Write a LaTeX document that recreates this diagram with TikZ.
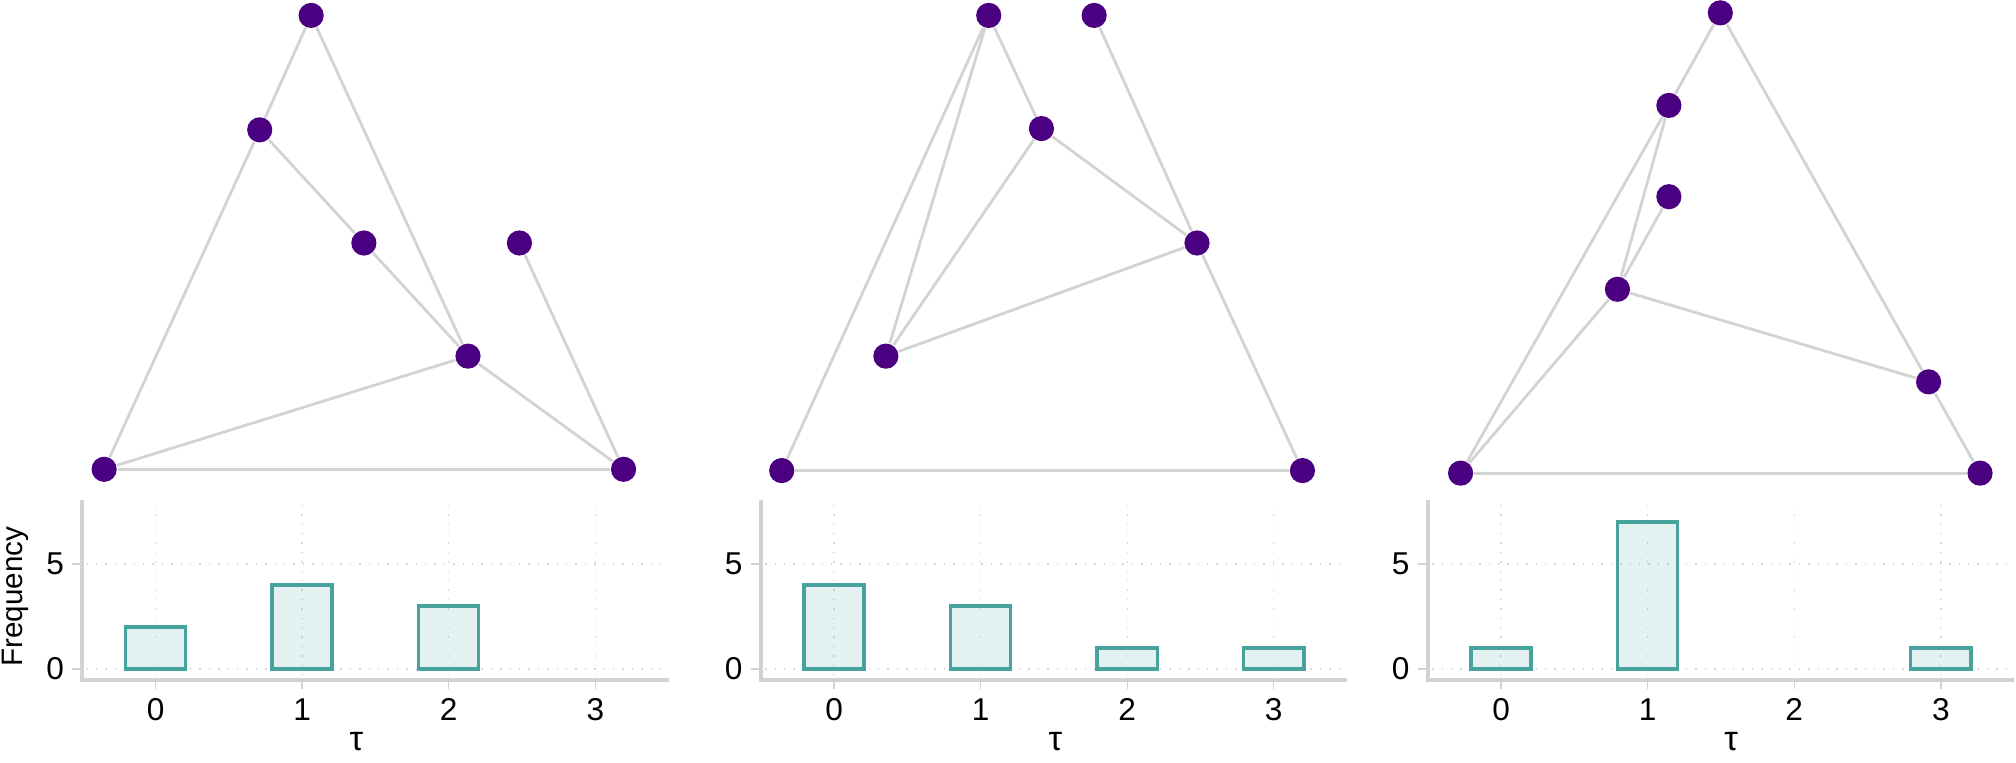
\documentclass[tikz,border=0pt]{standalone}
\usepackage{fontspec}
\setmainfont{Liberation Sans}
\definecolor{vtxpurple}{HTML}{4B0082}
\definecolor{linkgray}{HTML}{D3D3D3}
\definecolor{axisgray}{HTML}{D2D2D2}
\definecolor{gridgray}{HTML}{D8D8D8}
\definecolor{barteal}{HTML}{48A29E}
\begin{document}
\begin{tikzpicture}[
  x=0.321429pt, y=-0.321429pt,
  vertex/.style={circle, fill=vtxpurple, inner sep=0pt, minimum size=6.3pt},
  link/.style={draw=linkgray, line width=0.7pt},
  bar/.style={draw=barteal, fill=barteal, fill opacity=0.15, line width=0.85pt},
  axisline/.style={draw=axisgray, line width=0.9pt},
  gridline/.style={draw=gridgray, dotted, line width=0.35pt},
  tickline/.style={draw=axisgray, line width=0.35pt},
  ticklab/.style={inner sep=0pt, font=\fontsize{7.9}{9}\selectfont},
  axislab/.style={inner sep=0pt, font=\fontsize{7.4}{9}\selectfont},
  taulab/.style={inner sep=0pt, font=\fontsize{8.6}{10}\selectfont}
]
\useasboundingbox (0,0) rectangle (1568,593.4);

% graph 1
\node[vertex] (a1) at (242,12) {};
\node[vertex] (b1) at (202,101) {};
\node[vertex] (c1) at (283,189) {};
\node[vertex] (d1) at (404,189) {};
\node[vertex] (e1) at (364,277) {};
\node[vertex] (f1) at (81,365) {};
\node[vertex] (g1) at (485,365) {};
\draw[link] (a1) -- (b1);
\draw[link] (a1) -- (e1);
\draw[link] (b1) -- (c1);
\draw[link] (b1) -- (f1);
\draw[link] (c1) -- (e1);
\draw[link] (e1) -- (f1);
\draw[link] (e1) -- (g1);
\draw[link] (d1) -- (g1);
\draw[link] (f1) -- (g1);

% graph 2
\node[vertex] (a2) at (769,12) {};
\node[vertex] (b2) at (851,12) {};
\node[vertex] (c2) at (810,100) {};
\node[vertex] (d2) at (931,189) {};
\node[vertex] (e2) at (689,277) {};
\node[vertex] (f2) at (608,366) {};
\node[vertex] (g2) at (1013,366) {};
\draw[link] (a2) -- (f2);
\draw[link] (a2) -- (e2);
\draw[link] (a2) -- (c2);
\draw[link] (c2) -- (e2);
\draw[link] (c2) -- (d2);
\draw[link] (b2) -- (d2);
\draw[link] (d2) -- (e2);
\draw[link] (d2) -- (g2);
\draw[link] (f2) -- (g2);

% graph 3
\node[vertex] (a3) at (1338,10) {};
\node[vertex] (b3) at (1298,82) {};
\node[vertex] (c3) at (1298,153) {};
\node[vertex] (d3) at (1258,225) {};
\node[vertex] (e3) at (1500,297) {};
\node[vertex] (f3) at (1136,368) {};
\node[vertex] (g3) at (1540,368) {};
\draw[link] (a3) -- (b3);
\draw[link] (a3) -- (e3);
\draw[link] (e3) -- (g3);
\draw[link] (b3) -- (f3);
\draw[link] (b3) -- (d3);
\draw[link] (c3) -- (d3);
\draw[link] (d3) -- (f3);
\draw[link] (d3) -- (e3);
\draw[link] (f3) -- (g3);

\node[axislab, rotate=90] (freq) at (11.9,464) {Frequency};

% histogram 1
\begin{scope}[shift={(121,520.4)}, x=36.643pt, y=5.252pt]
\draw[gridline] (0,-0.3) -- (0,7.9) (1,-0.3) -- (1,7.9) (2,-0.3) -- (2,7.9) (3,-0.3) -- (3,7.9)
  (-0.47,0) -- (3.5,0) (-0.47,5) -- (3.5,5);
\draw[tickline] (-0.5,0) -- (-0.57,0) (-0.5,5) -- (-0.57,5)
  (0,-0.53) -- (0,-0.95) (1,-0.53) -- (1,-0.95) (2,-0.53) -- (2,-0.95) (3,-0.53) -- (3,-0.95);
\draw[axisline] (-0.5,8.05) -- (-0.5,-0.53) -- (3.5,-0.53);
\draw[bar] (-0.205,0) rectangle (0.205,2);
\draw[bar] (0.795,0) rectangle (1.205,4);
\draw[bar] (1.795,0) rectangle (2.205,3);
\node[ticklab, anchor=east] (ya0) at (-0.62,0) {0};
\node[ticklab, anchor=east] (ya5) at (-0.62,5) {5};
\node[ticklab] (xa0) at (0,-1.92) {0};
\node[ticklab] (xa1) at (1,-1.92) {1};
\node[ticklab] (xa2) at (2,-1.92) {2};
\node[ticklab] (xa3) at (3,-1.92) {3};
\node[taulab] (taua) at (1.37,-3.46) {τ};
\end{scope}

% histogram 2
\begin{scope}[shift={(648.7,520.4)}, x=36.643pt, y=5.252pt]
\draw[gridline] (0,-0.3) -- (0,7.9) (1,-0.3) -- (1,7.9) (2,-0.3) -- (2,7.9) (3,-0.3) -- (3,7.9)
  (-0.47,0) -- (3.5,0) (-0.47,5) -- (3.5,5);
\draw[tickline] (-0.5,0) -- (-0.57,0) (-0.5,5) -- (-0.57,5)
  (0,-0.53) -- (0,-0.95) (1,-0.53) -- (1,-0.95) (2,-0.53) -- (2,-0.95) (3,-0.53) -- (3,-0.95);
\draw[axisline] (-0.5,8.05) -- (-0.5,-0.53) -- (3.5,-0.53);
\draw[bar] (-0.205,0) rectangle (0.205,4);
\draw[bar] (0.795,0) rectangle (1.205,3);
\draw[bar] (1.795,0) rectangle (2.205,1);
\draw[bar] (2.795,0) rectangle (3.205,1);
\node[ticklab, anchor=east] (yb0) at (-0.62,0) {0};
\node[ticklab, anchor=east] (yb5) at (-0.62,5) {5};
\node[ticklab] (xb0) at (0,-1.92) {0};
\node[ticklab] (xb1) at (1,-1.92) {1};
\node[ticklab] (xb2) at (2,-1.92) {2};
\node[ticklab] (xb3) at (3,-1.92) {3};
\node[taulab] (taub) at (1.51,-3.46) {τ};
\end{scope}

% histogram 3
\begin{scope}[shift={(1167.5,520.4)}, x=36.643pt, y=5.252pt]
\draw[gridline] (0,-0.3) -- (0,7.9) (1,-0.3) -- (1,7.9) (2,-0.3) -- (2,7.9) (3,-0.3) -- (3,7.9)
  (-0.47,0) -- (3.5,0) (-0.47,5) -- (3.5,5);
\draw[tickline] (-0.5,0) -- (-0.57,0) (-0.5,5) -- (-0.57,5)
  (0,-0.53) -- (0,-0.95) (1,-0.53) -- (1,-0.95) (2,-0.53) -- (2,-0.95) (3,-0.53) -- (3,-0.95);
\draw[axisline] (-0.5,8.05) -- (-0.5,-0.53) -- (3.5,-0.53);
\draw[bar] (-0.205,0) rectangle (0.205,1);
\draw[bar] (0.795,0) rectangle (1.205,7);
\draw[bar] (2.795,0) rectangle (3.205,1);
\node[ticklab, anchor=east] (yc0) at (-0.62,0) {0};
\node[ticklab, anchor=east] (yc5) at (-0.62,5) {5};
\node[ticklab] (xc0) at (0,-1.92) {0};
\node[ticklab] (xc1) at (1,-1.92) {1};
\node[ticklab] (xc2) at (2,-1.92) {2};
\node[ticklab] (xc3) at (3,-1.92) {3};
\node[taulab] (tauc) at (1.57,-3.46) {τ};
\end{scope}
\end{tikzpicture}
\end{document}
